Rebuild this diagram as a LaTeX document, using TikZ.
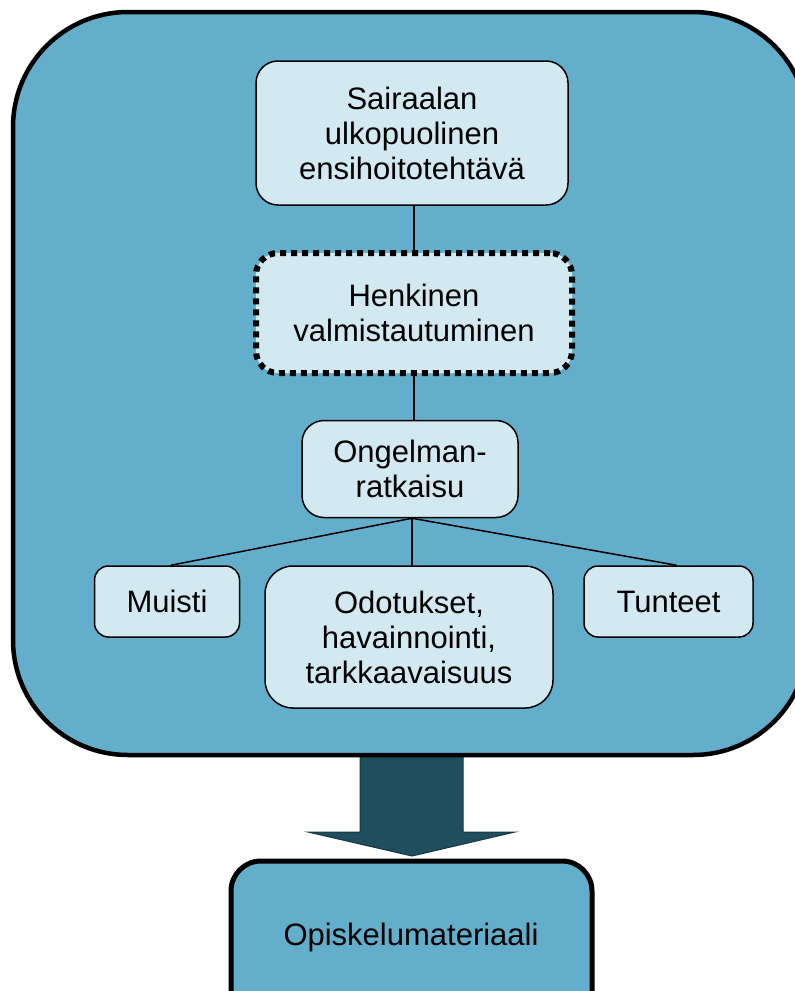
\documentclass[tikz,border=0pt]{standalone}
\usepackage{fontspec}
\setmainfont{Liberation Sans}
\usetikzlibrary{calc}
\definecolor{mainblue}{HTML}{63AECB}
\definecolor{lightbox}{HTML}{D3E9F1}
\definecolor{darkarrow}{HTML}{1F4E5E}
\tikzset{
  lbox/.style={draw=black, line width=1.5pt, fill=lightbox, rounded corners=22pt,
    align=center, inner sep=0pt, font=\fontsize{31}{35}\selectfont},
  dotbox/.style={lbox, line width=6pt, dash pattern=on 6pt off 5pt},
  conn/.style={draw=black, line width=1.5pt},
}
\begin{document}
\begin{tikzpicture}[x=1pt,y=-1pt]
\clip (0,0) rectangle (795,991);
\fill[white] (0,0) rectangle (795,991);
% block arrow
\draw[fill=darkarrow, draw=darkarrow!70!black, line width=1pt]
  (360,750) -- (463,750) -- (463,832) -- (515,832) -- (412,856) -- (308,832) -- (360,832) -- cycle;
% main container
\draw[fill=mainblue, line width=4.5pt, rounded corners=115pt] (13,12) rectangle (808,755);
% bottom box
\draw[fill=mainblue, line width=5pt, rounded corners=30pt] (231,861) rectangle (592,1030);
\node[font=\fontsize{31}{35}\selectfont, inner sep=0pt] (opi) at (411,937) {Opiskelumateriaali};
% nodes
\node[lbox, minimum width=312pt, minimum height=144pt] (top) at (412,133) {Sairaalan\\ulkopuolinen\\ensihoitotehtävä};
\node[dotbox, minimum width=316pt, minimum height=120pt] (hen) at (414,313) {Henkinen\\valmistautuminen};
\node[lbox, minimum width=216pt, minimum height=97pt] (ong) at (410,469) {Ongelman-\\ratkaisu};
\node[lbox, minimum width=145pt, minimum height=71pt, rounded corners=14pt] (mui) at (167,601.5) {Muisti};
\node[lbox, minimum width=288pt, minimum height=142pt, rounded corners=28pt] (odo) at (409,637) {Odotukset,\\havainnointi,\\tarkkaavaisuus};
\node[lbox, minimum width=169pt, minimum height=71pt, rounded corners=14pt] (tun) at (668.5,601.5) {Tunteet};
% connectors
\draw[conn] (top.south -| hen.north) -- (hen.north);
\draw[conn] (hen.south) -- (hen.south |- ong.north);
\coordinate (apex) at ($(ong.south)+(2,0)$);
\draw[conn] (apex) -- ($(mui.north)+(4,0)$);
\draw[conn] (apex) -- (apex |- odo.north);
\draw[conn] (apex) -- ($(tun.north)+(8,0)$);
\end{tikzpicture}
\end{document}
